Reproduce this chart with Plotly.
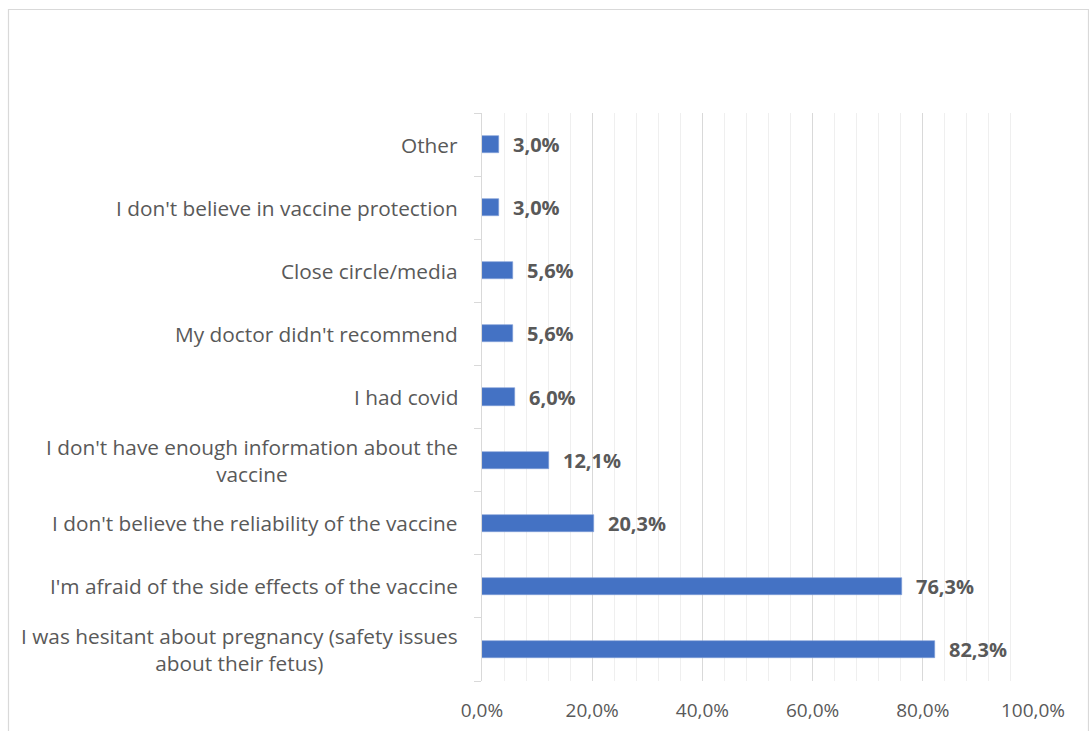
import plotly.graph_objects as go

# Reasons for not getting vaccinated, listed top to bottom
reasons = [
    "Other",
    "I don't believe in vaccine protection",
    "Close circle/media",
    "My doctor didn't recommend",
    "I had covid",
    "I don't have enough information about the<br>vaccine",
    "I don't believe the reliability of the vaccine",
    "I'm afraid of the side effects of the vaccine",
    "I was hesitant about pregnancy (safety issues<br>about their fetus)",
]
shares = [3.0, 3.0, 5.6, 5.6, 6.0, 12.1, 20.3, 76.3, 82.3]

W, H = 1089, 731
ML, MR, MT, MB = 482, 56, 113, 50
TEXT = "#595959"
FONT = "Open Sans"

fig = go.Figure(
    go.Bar(
        x=shares,
        y=list(range(len(reasons))),
        orientation="h",
        width=0.27,
        marker=dict(color="#4472C4", line=dict(color="#7F9ED6", width=0.6)),
        hoverinfo="skip",
    )
)

annotations = []
# value labels at the end of each bar
for i, v in enumerate(shares):
    annotations.append(dict(
        x=v, y=i, xref="x", yref="y",
        text=f"<b>{v:.1f}%</b>".replace(".", ","),
        showarrow=False, xanchor="left", yanchor="middle", xshift=12,
        font=dict(family=FONT, size=20, color=TEXT),
    ))
# category labels, centred when wrapped
for i, r in enumerate(reasons):
    annotations.append(dict(
        x=0, y=i, xref="paper", yref="y",
        text=r, showarrow=False, xanchor="right", yanchor="middle",
        align="center", xshift=-22,
        font=dict(family=FONT, size=20.8, color=TEXT),
    ))

pw = W - ML - MR
ph = H - MT - MB


def px_x(p):
    return (p - ML) / pw


def px_y(p):
    return 1 - (p - MT) / ph


fig.update_layout(
    width=W, height=H,
    margin=dict(l=ML, r=MR, t=MT, b=MB),
    paper_bgcolor="white", plot_bgcolor="white",
    separators=", ",
    showlegend=False,
    bargap=0,
    annotations=annotations,
    shapes=[dict(
        type="rect", xref="paper", yref="paper",
        x0=px_x(8.5), x1=px_x(1088.5), y0=px_y(760), y1=px_y(9.5),
        line=dict(color="#d9d9d9", width=1.2), fillcolor="rgba(0,0,0,0)",
        layer="below",
    )],
    xaxis=dict(
        range=[0, 100], dtick=20, tick0=0,
        tickformat=".1f", ticksuffix="%",
        showgrid=True, gridcolor="#d9d9d9", gridwidth=1,
        minor=dict(dtick=4, showgrid=True, gridcolor="#efefef", gridwidth=1),
        zeroline=False, showline=False,
        ticks="outside", ticklen=12, tickcolor="rgba(0,0,0,0)",
        tickfont=dict(family=FONT, size=19, color=TEXT),
        automargin=False,
        fixedrange=True,
    ),
    yaxis=dict(
        range=[len(reasons) - 0.5, -0.5],
        tickmode="array",
        tickvals=[i + 0.5 for i in range(-1, len(reasons))],
        showticklabels=False,
        ticks="outside", ticklen=7, tickcolor="#d9d9d9",
        showgrid=False, zeroline=False,
        showline=True, linecolor="#d9d9d9", linewidth=1,
        automargin=False,
        fixedrange=True,
    ),
)

fig.write_html("out.html")
